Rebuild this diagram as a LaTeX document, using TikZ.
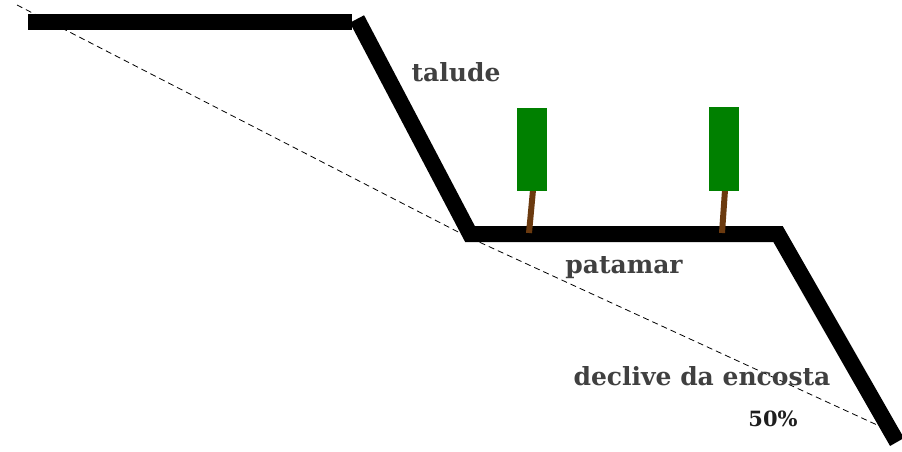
\documentclass[tikz,border=0pt]{standalone}
\usepackage{fontspec}
\setmainfont{DejaVu Serif}
\begin{document}
\begin{tikzpicture}[x=1pt,y=-1pt,
  ground/.style={line width=16pt,black},
  slope/.style={line width=0.8pt,dash pattern=on 6pt off 4pt},
  trunk/.style={line width=6pt,draw={rgb,255:red,107;green,58;blue,15}},
  lbl/.style={text={rgb,255:red,64;green,64;blue,64},font=\bfseries\fontsize{25}{29}\selectfont,inner sep=0pt}]
\useasboundingbox (0,0) rectangle (902,451);
\definecolor{leaf}{RGB}{0,128,0}
% terrain profile
\coordinate (a) at (28,22);
\coordinate (b) at (352,22);
\coordinate (c) at (357,19);
\coordinate (d) at (470,234);
\coordinate (e) at (778,234);
\coordinate (f) at (897,442);
% average slope line (its bend lies hidden under the terrace corner)
\coordinate (s1) at (17,5);
\coordinate (sk) at (466,236);
\coordinate (s2) at (888,430);
\draw[slope] (s1) -- (sk) -- (s2);
\draw[ground] (a) -- (b);
\draw[ground,line join=miter] (c) -- (d) -- (e) -- (f);
% trees
\coordinate (t1top) at (533,190);
\coordinate (t1bot) at (529,233);
\coordinate (t2top) at (725,190);
\coordinate (t2bot) at (722,233);
\draw[trunk] (t1top) -- (t1bot);
\draw[trunk] (t2top) -- (t2bot);
\fill[leaf] (517,108) rectangle (547,191);
\fill[leaf] (709,107) rectangle (739,191);
% labels
\node[lbl] (talude) at (456,72) {talude};
\node[lbl] (patamar) at (624,268) {patamar};
\node[lbl] (declive) at (702,376) {declive da encosta};
\node[lbl,text={rgb,255:red,30;green,30;blue,30},font=\bfseries\fontsize{21}{25}\selectfont] (pct) at (773,419) {50\%};
\end{tikzpicture}
\end{document}
